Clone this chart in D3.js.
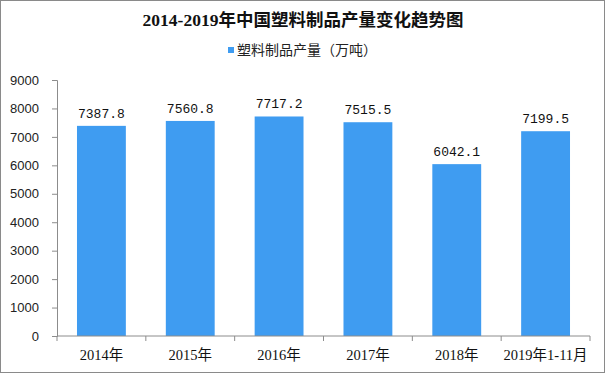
<!DOCTYPE html>
<html>
<head>
<meta charset="utf-8">
<script src="https://cdn.jsdelivr.net/npm/d3@7/dist/d3.min.js"></script>
<style>
  body { margin: 0; background: #fff; }
  svg { display: block; }
</style>
</head>
<body>
<svg></svg>
<script>
// Chart size
const width = 605, height = 373;
const margin = { top: 80, right: 15, bottom: 37, left: 57 };

// Data
const categories = ["2014年", "2015年", "2016年", "2017年", "2018年", "2019年1-11月"];
const output = [7387.8, 7560.8, 7717.2, 7515.5, 6042.1, 7199.5];
const yTicks = [0, 1000, 2000, 3000, 4000, 5000, 6000, 7000, 8000, 9000];

const title = "2014-2019年中国塑料制品产量变化趋势图";
const seriesName = "塑料制品产量（万吨）";

const barColor = "#3f9cf1";
const axisColor = "#8c8c8c";
const cjk = "'Liberation Serif', 'Noto Sans CJK SC', serif";

const svg = d3.select("svg")
    .attr("width", width)
    .attr("height", height);

// Outer border
svg.append("rect")
    .attr("x", 0.5).attr("y", 0.5)
    .attr("width", width - 1).attr("height", height - 1)
    .attr("fill", "#fff")
    .attr("stroke", "#8a8a8a");

// Scales
const x = d3.scaleBand()
    .domain(categories)
    .range([margin.left, width - margin.right])
    .paddingInner(0.45)
    .paddingOuter(0.225);

const y = d3.scaleLinear()
    .domain([0, 9000])
    .range([height - margin.bottom, margin.top]);

// Bars
svg.selectAll(".bar")
    .data(output)
    .enter()
    .append("rect")
    .attr("class", "bar")
    .attr("x", (d, i) => x(categories[i]))
    .attr("y", d => y(d))
    .attr("width", x.bandwidth())
    .attr("height", d => y(0) - y(d))
    .attr("fill", barColor);

// Value labels
svg.selectAll(".val")
    .data(output)
    .enter()
    .append("text")
    .attr("class", "val")
    .attr("x", (d, i) => x(categories[i]) + x.bandwidth() / 2)
    .attr("y", d => y(d) - 8)
    .attr("text-anchor", "middle")
    .attr("font-family", "'Liberation Mono', monospace")
    .attr("font-size", "13px")
    .attr("fill", "#111")
    .text(d => d.toFixed(1));

// Y axis
const yAxis = svg.append("g")
    .attr("transform", `translate(${margin.left},0)`)
    .call(d3.axisLeft(y).tickValues(yTicks).tickFormat(d3.format("d")).tickSize(5).tickPadding(13));
yAxis.selectAll("path, line").attr("stroke", axisColor);
yAxis.selectAll("text")
    .attr("font-family", "'Liberation Sans', Arial, sans-serif")
    .attr("font-size", "13px")
    .attr("fill", "#222");

// X axis, ticks sit between the categories
const xAxis = svg.append("g")
    .attr("transform", `translate(0,${y(0)})`);
xAxis.append("line")
    .attr("x1", margin.left).attr("x2", width - margin.right)
    .attr("stroke", axisColor);
const step = (width - margin.right - margin.left) / categories.length;
xAxis.selectAll(".xt")
    .data(d3.range(categories.length + 1))
    .enter()
    .append("line")
    .attr("class", "xt")
    .attr("x1", i => margin.left + i * step)
    .attr("x2", i => margin.left + i * step)
    .attr("y1", 0).attr("y2", 5)
    .attr("stroke", axisColor);
xAxis.selectAll(".xl")
    .data(categories)
    .enter()
    .append("text")
    .attr("class", "xl")
    .attr("x", d => x(d) + x.bandwidth() / 2)
    .attr("y", 24)
    .attr("text-anchor", "middle")
    .attr("font-family", cjk)
    .attr("font-size", "14.5px")
    .attr("fill", "#111")
    .text(d => d);

// Title
svg.append("text")
    .attr("x", 303)
    .attr("y", 26)
    .attr("text-anchor", "middle")
    .attr("font-family", cjk)
    .attr("font-weight", "bold")
    .attr("font-size", "17.5px")
    .attr("fill", "#111")
    .text(title);

// Legend
const legend = svg.append("g").attr("transform", "translate(228,50)");
legend.append("rect")
    .attr("x", 0).attr("y", -3)
    .attr("width", 6).attr("height", 6)
    .attr("fill", barColor);
legend.append("text")
    .attr("x", 9)
    .attr("y", 5)
    .attr("font-family", "'Noto Sans CJK SC', sans-serif")
    .attr("font-size", "14px")
    .attr("fill", "#222")
    .text(seriesName);
</script>
</body>
</html>
